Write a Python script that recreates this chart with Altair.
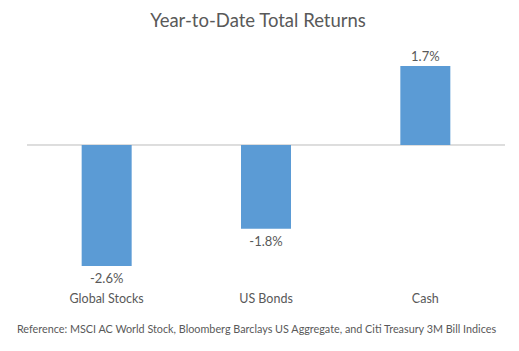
import altair as alt
import pandas as pd

categories = ["Global Stocks", "US Bonds", "Cash"]
returns = [-2.6, -1.8, 1.7]
labels = ["-2.6%", "-1.8%", "1.7%"]

df = pd.DataFrame({"category": categories, "ret": returns, "label": labels})

FONT = "Lato"
GRAY = "#595959"
W, H = 478, 232.5
yscale = alt.Scale(domain=[-3, 2], nice=False, zero=True)

x = alt.X(
    "category:N",
    sort=categories,
    scale=alt.Scale(paddingInner=0, paddingOuter=0),
    axis=alt.Axis(
        title="Reference: MSCI AC World Stock, Bloomberg Barclays US Aggregate, and Citi Treasury 3M Bill Indices",
        titleFont=FONT, titleFontSize=10.8, titleFontWeight="normal", titleColor=GRAY,
        titlePadding=18, titleX=229,
        labelFont=FONT, labelFontSize=12.5, labelColor=GRAY, labelAngle=0, labelPadding=8,
        ticks=False, domain=False, grid=False,
    ),
)
y = alt.Y("ret:Q", scale=yscale, axis=None)

base = alt.Chart(df)
bars = base.mark_bar(size=50, color="#5B9BD5").encode(x=x, y=y)
zero = base.transform_calculate(z="0").mark_rule(color="#D9D9D9", strokeWidth=1).encode(
    y=alt.Y("z:Q", scale=yscale, axis=None)
)
pos_text = base.transform_filter("datum.ret >= 0").mark_text(
    font=FONT, fontSize=13, color=GRAY, baseline="bottom", dy=-2
).encode(x=x, y=y, text="label:N")
neg_text = base.transform_filter("datum.ret < 0").mark_text(
    font=FONT, fontSize=13, color=GRAY, baseline="top", dy=7
).encode(x=x, y=y, text="label:N")

chart = alt.layer(zero, bars, pos_text, neg_text).properties(
    width=W, height=H,
    title=alt.TitleParams("Year-to-Date Total Returns", font=FONT, fontSize=18.5, fontWeight="normal",
                          color=GRAY, anchor="middle", offset=20, dx=-8),
    autosize=alt.AutoSizeParams(type="none"),
    padding={"left": 27, "right": 14, "top": 52, "bottom": 66},
).configure_view(stroke=None)

chart.save("out.html", embed_options={"renderer": "svg", "actions": False})
